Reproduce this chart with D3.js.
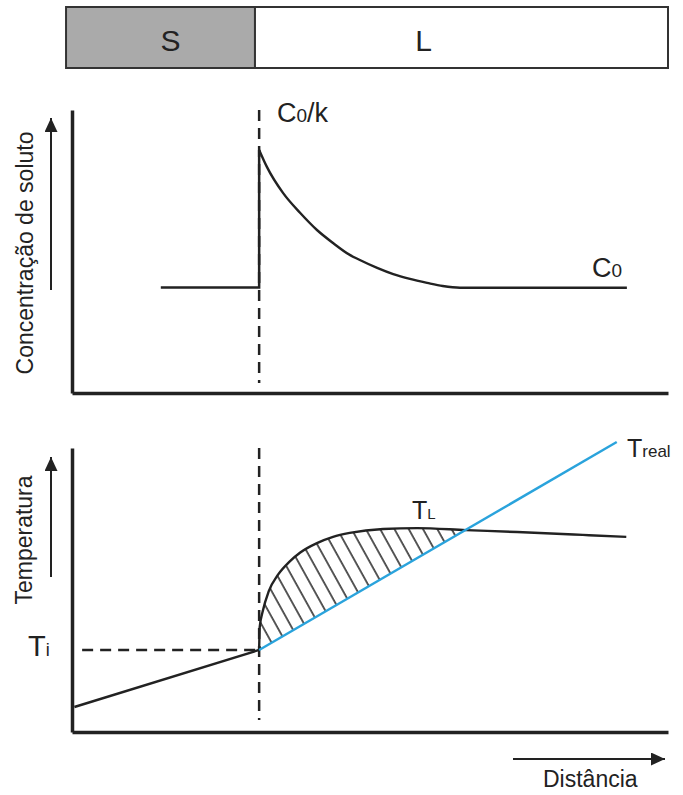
<!DOCTYPE html>
<html lang="pt">
<head>
<meta charset="UTF-8">
<title>Super-resfriamento constitucional</title>
<style>
  body { margin: 0; background: #fff; font-family: "Liberation Sans", Arial, sans-serif; }
  text { fill: #222; }
</style>
<script src="https://cdn.jsdelivr.net/npm/d3@7/dist/d3.min.js"></script>
</head>
<body>
<div id="chart"></div>
<script>
// fases da barra superior (limites em unidades de distância)
const phases = ["S", "L"];
const phaseBounds = [-1.0, 30.7, 100];
const xInterface = 31.4;

// perfil de concentração de soluto
const concSolid = [[14.9, 37.3], [31.4, 37.3], [31.4, 85.9]];
const concLiquid = [
  [31.4, 85.9], [32.7, 79.9], [35.4, 70.7], [38.3, 63.6], [41.1, 57.6],
  [43.8, 53.0], [46.6, 48.8], [48.3, 47.0], [51.2, 44.2], [53.9, 42.0],
  [56.7, 40.3], [59.6, 38.9], [62.2, 37.8], [65.1, 37.2], [93.1, 37.2]
];

// perfis de temperatura
const tInterface = 28.9;
const tSolid = [[0.4, 8.8], [31.4, 28.9]];
const tReal = [[31.4, 28.9], [91.4, 102.1]];
const tLiquidus = [
  [31.4, 28.9], [31.5, 37.0], [32.0, 42.5], [33.0, 49.5], [34.6, 55.5],
  [36.5, 60.0], [38.3, 63.2], [41.1, 66.5], [43.8, 68.7], [46.6, 70.1],
  [52.2, 71.5], [57.9, 71.8], [66.1, 71.1], [74.7, 70.4], [85.7, 69.4],
  [93.0, 68.7]
];
const tCross = 66.1;

const width = 683, height = 795;
const ink = "#222", blue = "#2aa3dc";

const svg = d3.select("#chart").append("svg")
  .attr("width", width).attr("height", height);

const defs = svg.append("defs");
defs.append("marker")
  .attr("id", "arrow")
  .attr("markerUnits", "userSpaceOnUse")
  .attr("markerWidth", 14).attr("markerHeight", 14)
  .attr("refX", 14).attr("refY", 6.5)
  .attr("orient", "auto")
  .append("path").attr("d", "M0,0L14,6.5L0,13Z").attr("fill", ink);

const pat = defs.append("pattern")
  .attr("id", "hatch")
  .attr("patternUnits", "userSpaceOnUse")
  .attr("width", 12.5).attr("height", 12.5)
  .attr("patternTransform", "rotate(-29)");
pat.append("line")
  .attr("x1", 1).attr("y1", 0).attr("x2", 1).attr("y2", 12.5)
  .attr("stroke", ink).attr("stroke-width", 1.5);

const x = d3.scaleLinear().domain([0, 100]).range([72, 668]);
const yC = d3.scaleLinear().domain([0, 100]).range([393, 110]);
const yT = d3.scaleLinear().domain([0, 100]).range([732, 448]);

// barra S / L
const bar = svg.append("g");
bar.selectAll("rect")
  .data(phases)
  .join("rect")
  .attr("x", (d, i) => x(phaseBounds[i]))
  .attr("y", 7)
  .attr("width", (d, i) => x(phaseBounds[i + 1]) - x(phaseBounds[i]))
  .attr("height", 61)
  .attr("fill", d => d === "S" ? "#aaaaaa" : "#fff")
  .attr("stroke", "#333").attr("stroke-width", 2);
bar.selectAll("text")
  .data(phases)
  .join("text")
  .attr("x", (d, i) => (x(phaseBounds[i]) + x(phaseBounds[i + 1])) / 2 + (i ? -38 : 10))
  .attr("y", 51)
  .attr("text-anchor", "middle")
  .attr("font-size", 30)
  .text(d => d);

function axes(y) {
  svg.append("g").attr("transform", `translate(${x(0)},0)`)
    .call(d3.axisLeft(y).ticks(0).tickSizeOuter(0))
    .call(g => g.select(".domain").attr("stroke", ink).attr("stroke-width", 3.5));
  svg.append("g").attr("transform", `translate(0,${y(0)})`)
    .call(d3.axisBottom(x).ticks(0).tickSizeOuter(0))
    .call(g => g.select(".domain").attr("stroke", ink).attr("stroke-width", 3.5));
}

const line = (y, curve) => d3.line().x(d => x(d[0])).y(d => y(d[1])).curve(curve || d3.curveLinear);

// ---- painel de concentração ----
axes(yC);
svg.append("line")
  .attr("x1", x(xInterface)).attr("x2", x(xInterface))
  .attr("y1", yC(100)).attr("y2", yC(3.5))
  .attr("stroke", ink).attr("stroke-width", 2.5).attr("stroke-dasharray", "11,7");
svg.append("path").datum(concSolid)
  .attr("d", line(yC)).attr("fill", "none").attr("stroke", ink).attr("stroke-width", 2.5);
svg.append("path").datum(concLiquid)
  .attr("d", line(yC, d3.curveMonotoneX)).attr("fill", "none").attr("stroke", ink).attr("stroke-width", 2.4);

svg.append("line")
  .attr("x1", 51).attr("x2", 51).attr("y1", 290).attr("y2", 118)
  .attr("stroke", ink).attr("stroke-width", 2).attr("marker-end", "url(#arrow)");
svg.append("text")
  .attr("transform", "translate(33,253) rotate(-90)")
  .attr("text-anchor", "middle").attr("font-size", 23)
  .text("Concentração de soluto");

const c0k = svg.append("text").attr("x", 277).attr("y", 122).attr("font-size", 27);
c0k.append("tspan").text("C");
c0k.append("tspan").attr("font-size", 19).text("0");
c0k.append("tspan").text("/k");
const c0 = svg.append("text").attr("x", 592).attr("y", 277).attr("font-size", 27);
c0.append("tspan").text("C");
c0.append("tspan").attr("font-size", 19).text("0");

// ---- painel de temperatura ----
axes(yT);
svg.append("line")
  .attr("x1", x(xInterface)).attr("x2", x(xInterface))
  .attr("y1", yT(100)).attr("y2", yT(4.2))
  .attr("stroke", ink).attr("stroke-width", 2.5).attr("stroke-dasharray", "11,7");
svg.append("line")
  .attr("x1", x(1.7)).attr("x2", x(xInterface))
  .attr("y1", yT(tInterface)).attr("y2", yT(tInterface))
  .attr("stroke", ink).attr("stroke-width", 2.5).attr("stroke-dasharray", "11,7");

// região super-resfriada (hachurada)
svg.append("path").datum(tLiquidus.filter(d => d[0] <= tCross))
  .attr("d", d => line(yT, d3.curveMonotoneX)(d) + "Z")
  .attr("fill", "url(#hatch)");

svg.append("path").datum(tSolid)
  .attr("d", line(yT)).attr("fill", "none").attr("stroke", ink).attr("stroke-width", 2.4);
svg.append("path").datum(tLiquidus)
  .attr("d", line(yT, d3.curveMonotoneX)).attr("fill", "none").attr("stroke", ink).attr("stroke-width", 2.4);
svg.append("path").datum(tReal)
  .attr("d", line(yT)).attr("fill", "none").attr("stroke", blue).attr("stroke-width", 2.4);

svg.append("line")
  .attr("x1", 51).attr("x2", 51).attr("y1", 577).attr("y2", 457)
  .attr("stroke", ink).attr("stroke-width", 2).attr("marker-end", "url(#arrow)");
svg.append("text")
  .attr("transform", "translate(32,540) rotate(-90)")
  .attr("text-anchor", "middle").attr("font-size", 23)
  .text("Temperatura");

const ti = svg.append("text").attr("x", 28).attr("y", 656).attr("font-size", 29);
ti.append("tspan").text("T");
ti.append("tspan").attr("font-size", 18).text("i");
const tl = svg.append("text").attr("x", 412).attr("y", 519).attr("font-size", 25);
tl.append("tspan").text("T");
tl.append("tspan").attr("font-size", 15).text("L");
const tr = svg.append("text").attr("x", 627).attr("y", 457).attr("font-size", 25);
tr.append("tspan").text("T");
tr.append("tspan").attr("font-size", 17).text("real");

svg.append("line")
  .attr("x1", 513).attr("x2", 665).attr("y1", 759).attr("y2", 759)
  .attr("stroke", ink).attr("stroke-width", 2).attr("marker-end", "url(#arrow)");
svg.append("text").attr("x", 543).attr("y", 787).attr("font-size", 23).text("Distância");
</script>
</body>
</html>
